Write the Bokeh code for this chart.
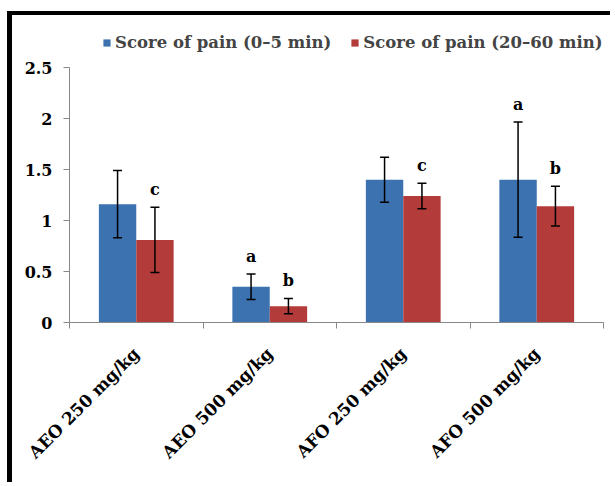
import numpy as np
from bokeh.plotting import figure
from bokeh.models import (ColumnDataSource, Whisker, TeeHead, FixedTicker, Legend,
                          LegendItem, Range1d)
from bokeh.core.properties import value
from bokeh.embed import file_html
from bokeh.resources import INLINE

# ---- data ----
categories = ["AEO 250 mg/kg", "AEO 500 mg/kg", "AFO 250 mg/kg", "AFO 500 mg/kg"]
pain_early = [1.16, 0.35, 1.40, 1.40]          # Score of pain (0–5 min)
pain_early_err = [0.33, 0.125, 0.22, 0.565]
pain_late = [0.81, 0.16, 1.24, 1.14]           # Score of pain (20–60 min)
pain_late_err = [0.32, 0.075, 0.125, 0.195]
early_letters = ["", "a", "", "a"]
late_letters = ["c", "b", "c", "b"]
y_ticks = [0, 0.5, 1, 1.5, 2, 2.5]
y_tick_labels = ["0", "0.5", "1", "1.5", "2", "2.5"]

BLUE = "#3d72b0"
RED = "#b33c3a"
FONT = "DejaVu Serif"

centers = np.arange(len(categories)) + 0.5
bw = 0.28

early = ColumnDataSource(dict(
    x=centers - bw / 2, top=pain_early,
    upper=np.array(pain_early) + np.array(pain_early_err),
    lower=np.array(pain_early) - np.array(pain_early_err),
    letter=early_letters))
late = ColumnDataSource(dict(
    x=centers + bw / 2, top=pain_late,
    upper=np.array(pain_late) + np.array(pain_late_err),
    lower=np.array(pain_late) - np.array(pain_late_err),
    letter=late_letters))

# frame is 300 px tall, the axis (0..2.5) occupies the lower 255 px
y_max = y_ticks[-1]
y_top = y_max * 300 / 255

p = figure(width=603, height=471, output_backend="svg", toolbar_location=None,
           x_range=Range1d(0, len(categories)), y_range=Range1d(0, y_top),
           min_border_left=57, min_border_right=12, min_border_top=7,
           min_border_bottom=164, outline_line_color=None)
p.styles = {"margin-left": "7px", "margin-top": "11px",
            "border-left": "5px solid black", "border-top": "4px solid black"}

r1 = p.vbar(x="x", top="top", width=bw, source=early, fill_color=BLUE, line_color=None)
r2 = p.vbar(x="x", top="top", width=bw, source=late, fill_color=RED, line_color=None)

for src in (early, late):
    w = Whisker(base="x", upper="upper", lower="lower", source=src,
                line_color="black", line_width=1.5, level="overlay",
                upper_head=TeeHead(size=9, line_color="black", line_width=1.5),
                lower_head=TeeHead(size=9, line_color="black", line_width=1.5))
    p.add_layout(w)
    p.text(x="x", y="upper", text="letter", source=src, text_align="center",
           text_baseline="middle", y_offset=-18, text_font=value(FONT),
           text_font_style="bold", text_font_size="16px", text_color="black")

p.xgrid.visible = False
p.ygrid.visible = False

# axes
ax = p.xaxis[0]
ax.ticker = FixedTicker(ticks=list(centers), minor_ticks=list(range(len(categories) + 1)))
ax.major_label_overrides = {float(c): lab for c, lab in zip(centers, categories)}
ax.major_tick_out = 0
ax.major_tick_in = 0
ax.minor_tick_out = 6
ax.minor_tick_in = 0
ax.minor_tick_line_color = "#888888"
ax.axis_line_color = "#888888"
ax.major_label_orientation = np.pi / 4
ax.major_label_standoff = 22
ax.major_label_text_font = FONT
ax.major_label_text_font_style = "bold"
ax.major_label_text_font_size = "17px"
ax.major_label_text_color = "black"

ay = p.yaxis[0]
ay.ticker = FixedTicker(ticks=y_ticks, minor_ticks=[])
ay.bounds = (0, y_max)
ay.major_label_overrides = {float(t): l for t, l in zip(y_ticks, y_tick_labels)}
ay.major_tick_out = 6
ay.major_tick_in = 0
ay.major_tick_line_color = "#888888"
ay.axis_line_color = "#888888"
ay.major_label_text_font = FONT
ay.major_label_text_font_style = "bold"
ay.major_label_text_font_size = "16px"
ay.major_label_text_color = "black"
ay.major_label_standoff = 11

legend = Legend(items=[LegendItem(label="Score of pain (0–5 min)", renderers=[r1]),
                       LegendItem(label="Score of pain (20–60 min)", renderers=[r2])],
                orientation="horizontal", location=(33, 270),
                label_text_font=FONT, label_text_font_style="bold",
                label_text_font_size="16.5px", glyph_width=9, glyph_height=9,
                label_standoff=4, spacing=19, padding=0, margin=0,
                border_line_alpha=0, background_fill_alpha=0)
p.add_layout(legend)

open("out.html", "w").write(file_html(p, INLINE))
